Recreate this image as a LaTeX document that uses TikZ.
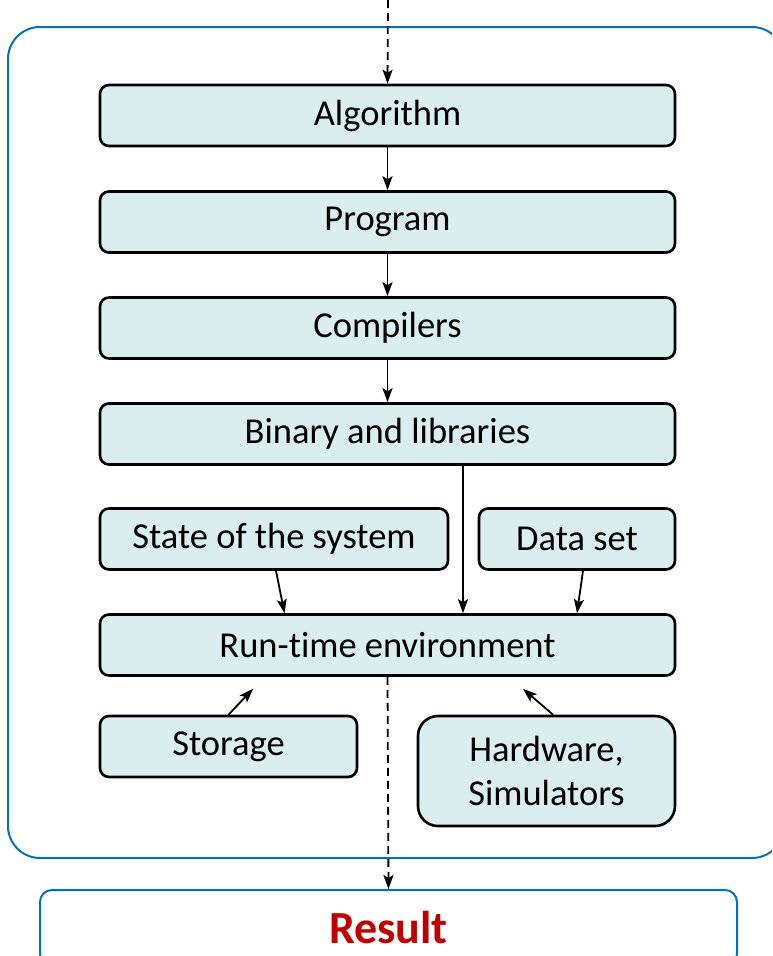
\documentclass[tikz,border=0pt]{standalone}
\usepackage{fontspec}
\setmainfont{Carlito}[Ligatures=NoCommon]
\usetikzlibrary{arrows.meta,calc}
\definecolor{boxfill}{HTML}{DAEDEF}
\definecolor{frameblue}{HTML}{0070C0}
\definecolor{resultred}{HTML}{C00000}
\begin{document}
\begin{tikzpicture}[x=1pt,y=-1pt,
  stage/.style={draw=black,line width=2.6pt,fill=boxfill,rounded corners=9pt,
    minimum height=61pt,inner sep=0pt,font=\fontsize{36.5}{44}\selectfont,align=center},
  flow/.style={line width=1.8pt,-{Stealth[length=14pt,width=10pt,inset=3pt]}},
  dashflow/.style={flow,dash pattern=on 8pt off 5pt}]
\useasboundingbox (0,0) rectangle (772,956);
\clip (0,0) rectangle (772,956);

% outer frame
\draw[frameblue,line width=2pt,rounded corners=32pt] (8,27) rectangle (784,858);

% processing chain
\node[stage,minimum width=575pt] (alg)     at (387.5,115.5) {Algorithm};
\node[stage,minimum width=575pt] (prog)    at (387.5,222)   {Program};
\node[stage,minimum width=575pt] (comp)    at (387.5,328)   {Compilers};
\node[stage,minimum width=575pt] (bin)     at (387.5,434)   {Binary and libraries};
\node[stage,minimum width=348pt] (state)   at (274,539)     {State of the system};
\node[stage,minimum width=196pt] (data)    at (577,539)     {Data set};
\node[stage,minimum width=575pt] (runtime) at (387.5,645)   {Run-time environment};
\node[stage,minimum width=257pt] (store)   at (228.5,746.5) {Storage};
\node[stage,minimum width=257pt,minimum height=110pt,rounded corners=20pt]
  (hw) at (546.5,771) {Hardware,\\Simulators};

% result
\node[draw=frameblue,line width=2pt,rounded corners=12pt,minimum width=697pt,
  minimum height=76pt,anchor=north,text=resultred,
  font=\fontsize{46}{50}\selectfont\bfseries] (result) at (388.5,889) {Result};

% entry and exit
\coordinate (entry) at (388,0);
\draw[dashflow] (entry) -- (alg.north);
\draw[dashflow] (runtime.south) -- (result.north);

% chain arrows
\draw[flow] (alg.south) -- (prog.north);
\draw[flow] (prog.south) -- (comp.north);
\draw[flow] (comp.south) -- (bin.north);
\draw[flow] ([xshift=75.5pt]bin.south) -- ([xshift=75.5pt]runtime.north);
\draw[flow] ([xshift=2pt]state.south) -- ([xshift=-103pt]runtime.north);
\draw[flow] ([xshift=6pt]data.south) -- ([xshift=189.5pt]runtime.north);
\draw[flow] (store.north) -- ([xshift=-134.5pt,yshift=-12pt]runtime.south);
\draw[flow] ([xshift=6.5pt]hw.north) -- ([xshift=135.5pt,yshift=-12pt]runtime.south);
\end{tikzpicture}
\end{document}
